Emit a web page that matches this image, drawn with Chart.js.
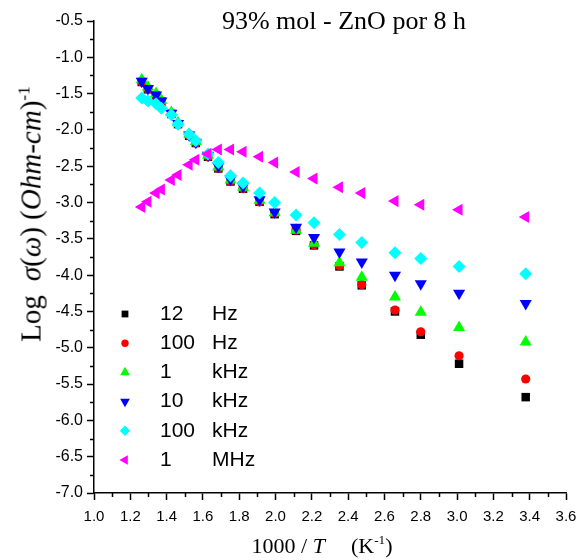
<!DOCTYPE html>
<html>
<head>
<meta charset="utf-8">
<script src="https://cdn.jsdelivr.net/npm/chart.js@4.4.0/dist/chart.umd.min.js"></script>
<style>
  html, body { margin:0; padding:0; background:#fff; }
  #wrap { position:relative; width:582px; height:560px; overflow:hidden; }
  #chart { position:absolute; left:0; top:0; }
  .serif { position:absolute; white-space:nowrap; color:#000;
           font-family:"Liberation Serif","Times New Roman",serif; line-height:1; }
  .serif sup { font-size:0.6em; vertical-align:0.65em; line-height:0; }
  #title { left:344px; top:8px; font-size:26px; transform:translateX(-50%); }
  #xTitle { left:322px; top:535px; font-size:22px; transform:translateX(-50%); }
  #yTitle { left:31px; top:214px; font-size:29px; transform:translate(-50%,-50%) rotate(-90deg); }
  .gap { display:inline-block; width:26px; }
  .ygap { display:inline-block; width:14px; }
</style>
</head>
<body>
<div id="wrap">
  <canvas id="chart" width="582" height="560"></canvas>
  <div id="title" class="serif">93% mol - ZnO por 8 h</div>
  <div id="xTitle" class="serif">1000 / <i>T</i><span class="gap"></span>(K<sup>-1</sup>)</div>
  <div id="yTitle" class="serif">Log<span class="ygap"></span><i>σ</i>(<i>ω</i>)&nbsp;(<i>Ohm-cm</i>)<sup>-1</sup></div>
</div>
<script>
// 1000/T values (K^-1)
const invT = [1.263, 1.297, 1.342, 1.371, 1.426, 1.463, 1.524, 1.561, 1.628, 1.685, 1.752,
              1.821, 1.912, 1.995, 2.113, 2.212, 2.352, 2.475, 2.658, 2.800, 3.011, 3.378];

// log sigma for each frequency
const hz12   = [-1.34, -1.44, -1.53, -1.61, -1.78, -1.92, -2.08, -2.18, -2.37, -2.53, -2.71,
                -2.81, -2.99, -3.16, -3.39, -3.59, -3.88, -4.14, -4.50, -4.82, -5.22, -5.68];
const hz100  = [-1.34, -1.44, -1.53, -1.61, -1.78, -1.92, -2.08, -2.18, -2.37, -2.53, -2.71,
                -2.81, -2.99, -3.15, -3.38, -3.58, -3.87, -4.13, -4.48, -4.78, -5.11, -5.43];
const khz1   = [-1.31, -1.41, -1.50, -1.59, -1.76, -1.90, -2.06, -2.16, -2.35, -2.51, -2.69,
                -2.79, -2.97, -3.14, -3.38, -3.56, -3.83, -4.03, -4.30, -4.51, -4.72, -4.92];
const khz10  = [-1.33, -1.43, -1.52, -1.60, -1.77, -1.91, -2.07, -2.17, -2.35, -2.50, -2.68,
                -2.78, -2.96, -3.13, -3.34, -3.48, -3.68, -3.82, -4.00, -4.12, -4.25, -4.39];
const khz100 = [-1.56, -1.60, -1.64, -1.70, -1.79, -1.92, -2.06, -2.15, -2.33, -2.45, -2.63,
                -2.73, -2.87, -3.00, -3.17, -3.28, -3.44, -3.55, -3.69, -3.77, -3.88, -3.98];
const mhz1   = [-3.06, -2.99, -2.87, -2.82, -2.69, -2.62, -2.48, -2.41, -2.33, -2.27, -2.27,
                -2.30, -2.37, -2.45, -2.58, -2.67, -2.79, -2.87, -2.98, -3.03, -3.10, -3.20];

const legendNums  = ["12", "100", "1", "10", "100", "1"];
const legendUnits = ["Hz", "Hz", "kHz", "kHz", "kHz", "MHz"];

const xTicks = { min: 1.0, max: 3.6, step: 0.2 };
const yTicks = { min: -7.0, max: -0.5, step: 0.5 };

const styles = [
  { color: "#000000", pointStyle: "rect",     radius: 6,   rotation: 0 },
  { color: "#ff0000", pointStyle: "circle",   radius: 4.6, rotation: 0 },
  { color: "#00ff00", pointStyle: "triangle", radius: 7,   rotation: 0 },
  { color: "#0000ff", pointStyle: "triangle", radius: 7,   rotation: 180 },
  { color: "#00ffff", pointStyle: "rectRot",  radius: 6.5, rotation: 0 },
  { color: "#ff00ff", pointStyle: "triangle", radius: 7,   rotation: 270 }
];

const series = [hz12, hz100, khz1, khz10, khz100, mhz1];

const datasets = series.map((vals, i) => ({
  label: legendNums[i] + " " + legendUnits[i],
  data: vals.map((v, k) => ({ x: invT[k], y: v })),
  pointStyle: styles[i].pointStyle,
  pointRadius: styles[i].radius,
  pointRotation: styles[i].rotation,
  backgroundColor: styles[i].color,
  borderColor: styles[i].color,
  borderWidth: 0,
  showLine: false,
  order: series.length - i   // later series on top, like the original
}));

const minorTicks = {
  id: "minorTicks",
  afterDraw(chart) {
    const { ctx, chartArea, scales: { x, y } } = chart;
    ctx.save();
    ctx.strokeStyle = "#000";
    ctx.lineWidth = 1.5;
    ctx.beginPath();
    for (let v = xTicks.min + xTicks.step / 2; v < xTicks.max; v += xTicks.step) {
      const px = Math.round(x.getPixelForValue(v)) + 0.5;
      ctx.moveTo(px, chartArea.bottom);
      ctx.lineTo(px, chartArea.bottom + 4);
    }
    for (let v = yTicks.min + yTicks.step / 2; v < yTicks.max; v += yTicks.step) {
      const py = Math.round(y.getPixelForValue(v)) + 0.5;
      ctx.moveTo(chartArea.left, py);
      ctx.lineTo(chartArea.left - 4, py);
    }
    ctx.stroke();
    ctx.restore();
  }
};

const boxLegend = {
  id: "boxLegend",
  afterDatasetsDraw(chart) {
    const ctx = chart.ctx;
    ctx.save();
    ctx.font = '21px "Liberation Sans", Arial, sans-serif';
    ctx.textBaseline = "middle";
    legendNums.forEach((num, i) => {
      const y = 314 + i * 29.2;
      const st = styles[i];
      ctx.fillStyle = st.color;
      Chart.helpers.drawPoint(ctx, {
        pointStyle: st.pointStyle,
        radius: st.radius * 0.8,
        rotation: st.rotation,
        borderWidth: 0
      }, 125, y);
      ctx.fillStyle = "#000";
      ctx.fillText(num, 160, y);
      ctx.fillText(legendUnits[i], 212, y);
    });
    ctx.restore();
  }
};

const tickFont = { family: '"Liberation Sans", Arial, sans-serif', size: 15 };

new Chart(document.getElementById("chart"), {
  type: "scatter",
  data: { datasets },
  options: {
    responsive: false,
    animation: false,
    layout: { padding: { left: 0, top: 21, right: 16, bottom: 0 } },
    plugins: { legend: { display: false }, tooltip: { enabled: false } },
    scales: {
      x: {
        type: "linear",
        min: xTicks.min, max: xTicks.max,
        ticks: {
          stepSize: xTicks.step, color: "#000", font: tickFont, padding: 8,
          maxRotation: 0, autoSkip: false,
          callback: v => v.toFixed(1)
        },
        grid: { drawOnChartArea: false, tickLength: 7, tickColor: "#000", tickWidth: 1.5 },
        border: { color: "#000", width: 1.5 },
        afterFit: s => { s.height = 67; s.paddingLeft = 0; s.paddingRight = 0; }
      },
      y: {
        type: "linear",
        min: yTicks.min, max: yTicks.max,
        ticks: {
          stepSize: yTicks.step, color: "#000", font: { ...tickFont, size: 16 }, padding: 4,
          callback: v => v.toFixed(1)
        },
        grid: { drawOnChartArea: false, tickLength: 7, tickColor: "#000", tickWidth: 1.5 },
        border: { color: "#000", width: 1.5 },
        afterFit: s => { s.width = 94; s.paddingTop = 0; s.paddingBottom = 0; }
      }
    }
  },
  plugins: [minorTicks, boxLegend]
});
</script>
</body>
</html>
